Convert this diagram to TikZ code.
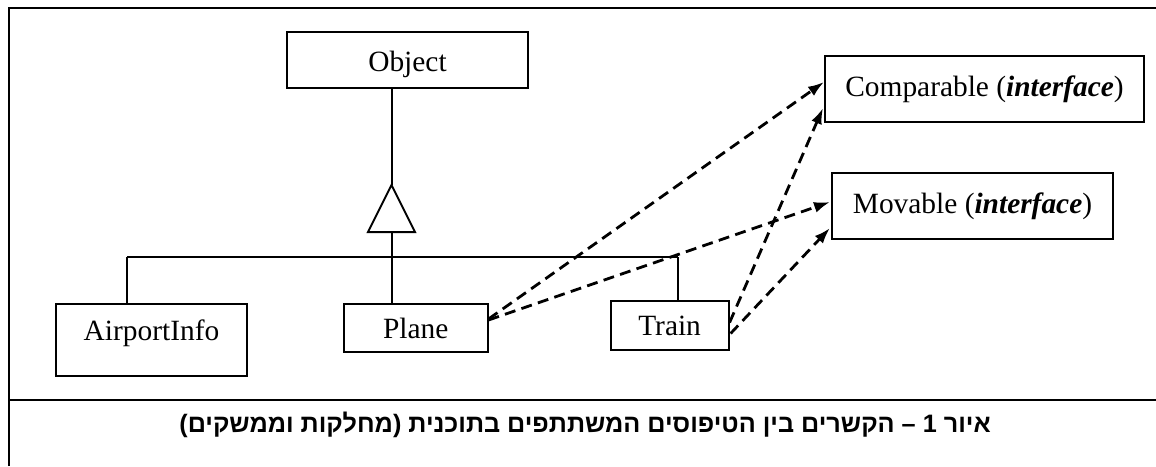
\documentclass[tikz,border=0pt]{standalone}
\usepackage{fontspec}
\setmainfont{Liberation Serif}
\newfontfamily\hebfont[Script=Hebrew]{Liberation Sans}
\TeXXeTstate=1
\usetikzlibrary{arrows.meta,calc}
\tikzset{
  classbox/.style={draw, line width=1pt, rectangle, inner sep=0pt,
    font=\fontsize{14.7}{17}\selectfont},
  rule/.style={line width=1pt},
  realize/.style={line width=1.4pt, dash pattern=on 5.5pt off 3.2pt,
    -{Latex[length=8pt,width=5.5pt]}},
}
\begin{document}
\begin{tikzpicture}[x=0.5pt,y=-0.5pt]
  \useasboundingbox (0,0) rectangle (1156,466);
  % outer frame and caption separator
  \draw[rule] (9,466) -- (9,8) -- (1156,8);
  \draw[rule] (8,400) -- (1156,400);

  % classes and interfaces
  \node[classbox, minimum width=241pt*0.5, minimum height=56pt*0.5, text height=14pt, text depth=3pt] (Object) at (407.5,60) {Object};
  \node[classbox, minimum width=319pt*0.5, minimum height=66pt*0.5] (Comparable) at (984.5,89) {Comparable (\textbf{\textit{interface}})};
  \node[classbox, minimum width=281pt*0.5, minimum height=66pt*0.5] (Movable) at (972.5,206) {Movable (\textbf{\textit{interface}})};
  \node[classbox, minimum width=191pt*0.5, minimum height=72pt*0.5, text depth=10pt] (AirportInfo) at (151.5,340) {AirportInfo};
  \node[classbox, minimum width=143.5pt*0.5, minimum height=48pt*0.5] (Plane) at (415.75,328) {Plane};
  \node[classbox, minimum width=118pt*0.5, minimum height=49pt*0.5] (Train) at (669.6,325.5) {Train};

  % generalization: triangle on the shared trunk
  \coordinate (apex) at (391.5,185);
  \coordinate (base) at (391.5,232);
  \coordinate (barL) at (127,257);
  \coordinate (barR) at (678,257);
  \draw[rule] (Object.south -| apex) -- (apex);
  \draw[rule, fill=white] (apex) -- ($(base)+(-23.5,0)$) -- ($(base)+(23.5,0)$) -- cycle;
  \draw[rule] (base) -- (base |- Plane.north);
  \draw[rule] (barL) -- (barR);
  \draw[rule] (barL) -- (barL |- AirportInfo.north);
  \draw[rule] (barR) -- (barR |- Train.north);

  % realizations
  \draw[realize] ($(Plane.east)+(0,-9)$) -- ($(Comparable.west)+(0,-7)$);
  \draw[realize] ($(Plane.east)+(0,-8)$) -- ($(Movable.west)+(-1,-4)$);
  \draw[realize] ($(Train.east)+(0,-3)$) -- ($(Comparable.south west)+(-1,-15)$);
  \draw[realize] ($(Train.east)+(1,8)$) -- ($(Movable.south west)+(-1,-12)$);

  % caption
  \node[font=\hebfont\bfseries\fontsize{12.6}{15}\selectfont] (caption) at (585,425)
    {\beginR איור 1 – הקשרים בין הטיפוסים המשתתפים בתוכנית (מחלקות וממשקים)\endR};
\end{tikzpicture}
\end{document}
